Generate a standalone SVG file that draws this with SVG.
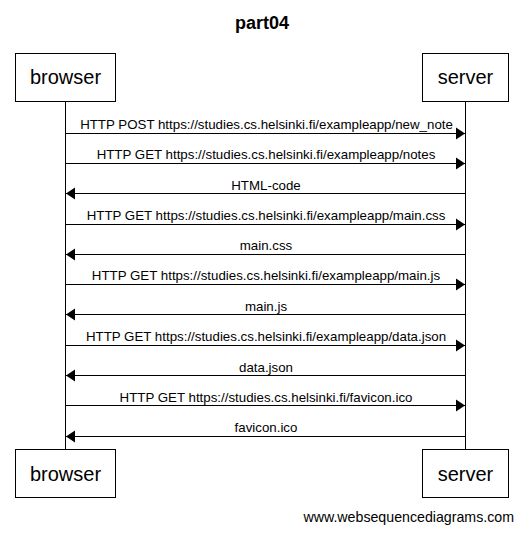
<svg xmlns="http://www.w3.org/2000/svg" width="523" height="533" viewBox="0 0 523 533">
<style>
text{font-family:"Liberation Sans",Arial,sans-serif;fill:#000}
.box{fill:#fff;stroke:#000;stroke-width:1}
.actor{font-size:20px;text-anchor:middle}
.lbl{font-size:13.3px;text-anchor:middle}
.msg{stroke:#000;stroke-width:1;fill:none}
.life{stroke:#000;stroke-width:1}
</style>
<defs>
<marker id="ah" markerWidth="10" markerHeight="14" refX="9" refY="7" orient="auto" markerUnits="userSpaceOnUse">
<path d="M0,1 L9,7 L0,13 Z" fill="#000"/>
</marker>
</defs>
<rect width="523" height="533" fill="#fff"/>
<text x="262" y="29" font-size="18" font-weight="bold" text-anchor="middle">part04</text>
<g id="lifelines">
<line class="life" x1="65.5" y1="102" x2="65.5" y2="450"/>
<line class="life" x1="465.5" y1="102" x2="465.5" y2="450"/>
</g>
<g id="browser">
<rect class="box" x="15.5" y="53.5" width="100" height="48"/>
<text class="actor" x="65.5" y="84">browser</text>
</g>
<g id="server">
<rect class="box" x="422.5" y="53.5" width="86" height="48"/>
<text class="actor" x="465.5" y="84">server</text>
</g>
<g id="browser-bottom">
<rect class="box" x="15.5" y="449.5" width="100" height="48"/>
<text class="actor" x="65.5" y="481">browser</text>
</g>
<g id="server-bottom">
<rect class="box" x="422.5" y="449.5" width="86" height="48"/>
<text class="actor" x="465.5" y="481">server</text>
</g>
<g id="connectors">
<line class="msg" x1="65.5" y1="133.5" x2="465" y2="133.5" marker-end="url(#ah)"/>
<text class="lbl" x="266.5" y="129">HTTP POST https://studies.cs.helsinki.fi/exampleapp/new_note</text>
<line class="msg" x1="65.5" y1="163.5" x2="465" y2="163.5" marker-end="url(#ah)"/>
<text class="lbl" x="266" y="159">HTTP GET https://studies.cs.helsinki.fi/exampleapp/notes</text>
<line class="msg" x1="465.5" y1="193.5" x2="66" y2="193.5" marker-end="url(#ah)"/>
<text class="lbl" x="266" y="190">HTML-code</text>
<line class="msg" x1="65.5" y1="224.5" x2="465" y2="224.5" marker-end="url(#ah)"/>
<text class="lbl" x="266" y="220">HTTP GET https://studies.cs.helsinki.fi/exampleapp/main.css</text>
<line class="msg" x1="465.5" y1="254.5" x2="66" y2="254.5" marker-end="url(#ah)"/>
<text class="lbl" x="266" y="250">main.css</text>
<line class="msg" x1="65.5" y1="284.5" x2="465" y2="284.5" marker-end="url(#ah)"/>
<text class="lbl" x="266" y="280">HTTP GET https://studies.cs.helsinki.fi/exampleapp/main.js</text>
<line class="msg" x1="465.5" y1="314.5" x2="66" y2="314.5" marker-end="url(#ah)"/>
<text class="lbl" x="266" y="311">main.js</text>
<line class="msg" x1="65.5" y1="345.5" x2="465" y2="345.5" marker-end="url(#ah)"/>
<text class="lbl" x="266" y="341">HTTP GET https://studies.cs.helsinki.fi/exampleapp/data.json</text>
<line class="msg" x1="465.5" y1="375.5" x2="66" y2="375.5" marker-end="url(#ah)"/>
<text class="lbl" x="266" y="372">data.json</text>
<line class="msg" x1="65.5" y1="405.5" x2="465" y2="405.5" marker-end="url(#ah)"/>
<text class="lbl" x="266" y="402">HTTP GET https://studies.cs.helsinki.fi/favicon.ico</text>
<line class="msg" x1="465.5" y1="436.5" x2="66" y2="436.5" marker-end="url(#ah)"/>
<text class="lbl" x="266" y="432">favicon.ico</text>
</g>
<text x="514" y="522" font-size="14.2" text-anchor="end">www.websequencediagrams.com</text>
</svg>
